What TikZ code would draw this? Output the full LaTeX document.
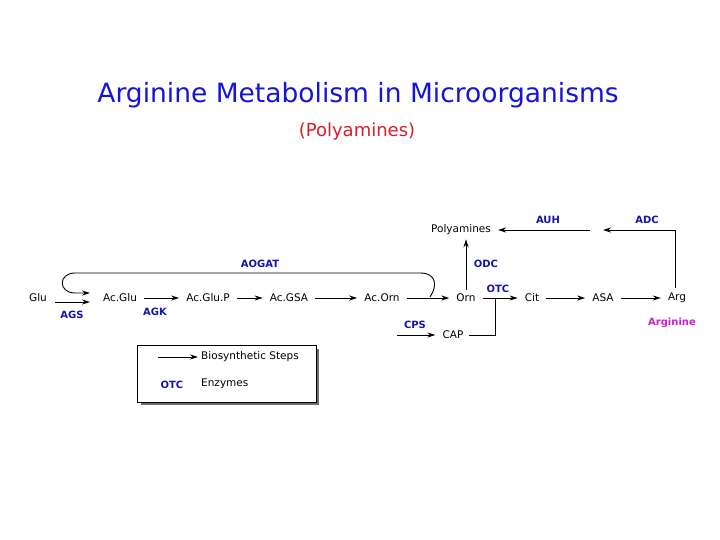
\documentclass[tikz,border=0pt]{standalone}
\usepackage{fontspec}
\setmainfont{DejaVu Sans}
\usetikzlibrary{arrows.meta}
\definecolor{enz}{RGB}{20,20,170}
\definecolor{mag}{RGB}{200,30,200}
\definecolor{tblue}{RGB}{20,20,220}
\definecolor{tred}{RGB}{215,30,40}
\begin{document}
\begin{tikzpicture}[x=1pt,y=-1pt,
  met/.style={font=\fontsize{10.5}{12}\selectfont,inner sep=1pt},
  enzl/.style={font=\fontsize{10}{12}\selectfont\bfseries,text=enz,inner sep=1pt},
  arr/.style={-{Stealth[length=8pt,width=5pt]},line width=0.9pt},
  garr/.style={arr,shorten >=6pt,shorten <=6pt},
  ln/.style={line width=0.9pt}]
\useasboundingbox (0,0) rectangle (720,540);
\node[text=tblue] (t1) at (358,95) {\fontsize{26.5}{30}\selectfont Arginine Metabolism in Microorganisms};
\node[text=tred] (t2) at (357,132) {\fontsize{18}{22}\selectfont (Polyamines)};
\node[met] (glu) at (38,298) {Glu};
\node[met] (acglu) at (120,298) {Ac.Glu};
\node[met] (acglup) at (208,298) {Ac.Glu.P};
\node[met] (acgsa) at (289,298) {Ac.GSA};
\node[met] (acorn) at (382,298) {Ac.Orn};
\node[met] (orn) at (466,298) {Orn};
\node[met] (cit) at (532,298) {Cit};
\node[met] (asa) at (603,298) {ASA};
\node[met] (arg) at (677,298) {Arg};
\node[met] (poly) at (461,230) {Polyamines};
\node[met] (cap) at (453,335) {CAP};
\node[enzl] (aogat) at (260,264) {AOGAT};
\node[enzl] (ags) at (72,315) {AGS};
\node[enzl] (agk) at (155,312) {AGK};
\node[enzl] (odc) at (486,264) {ODC};
\node[enzl] (otc) at (498,289) {OTC};
\node[enzl] (cps) at (415,325) {CPS};
\node[enzl] (auh) at (548,220) {AUH};
\node[enzl] (adc) at (647,220) {ADC};
\node[font=\fontsize{10}{12}\selectfont\bfseries,text=mag] (argn) at (672,323) {Arginine};
% arrows
\draw[arr] (55,302) -- (90,302);
\draw[arr] (430,297) .. controls (438,285) and (436,273) .. (420,273) -- (75,273) .. controls (58,273) and (58,293) .. (75,293) -- (90,293);
\draw[garr] (acglu) -- (acglup);
\draw[garr] (acglup) -- (acgsa);
\draw[garr] (acgsa) -- (acorn);
\draw[garr] (acorn) -- (orn);
\draw[garr] (orn) -- (cit);
\draw[ln] (cap.east)++(4,0) -| (495,298);
\draw[garr] (cit) -- (asa);
\draw[garr] (asa) -- (arg);
\draw[arr,shorten <=3pt,shorten >=3pt] (orn.north) -- (poly.south -| orn.north);
\draw[arr] (675,288) |- (603,230);
\draw[arr,shorten >=6pt] (590,230) -- (poly.east);
\draw[arr,shorten >=6pt] (397,335) -- (cap.west);
% legend
\fill[gray!85!black] (141,349) rectangle (319,405);
\draw[fill=white,line width=0.6pt] (137,345) rectangle (316,402);
\coordinate (la) at (158,357);
\node[met,anchor=west] (bs) at (200,357) {Biosynthetic Steps};
\draw[arr,shorten >=2pt] (la) -- (bs.west);
\node[enzl] (lotc) at (172,385) {OTC};
\node[met,anchor=west] (lenz) at (200,384) {Enzymes};
\end{tikzpicture}
\end{document}
